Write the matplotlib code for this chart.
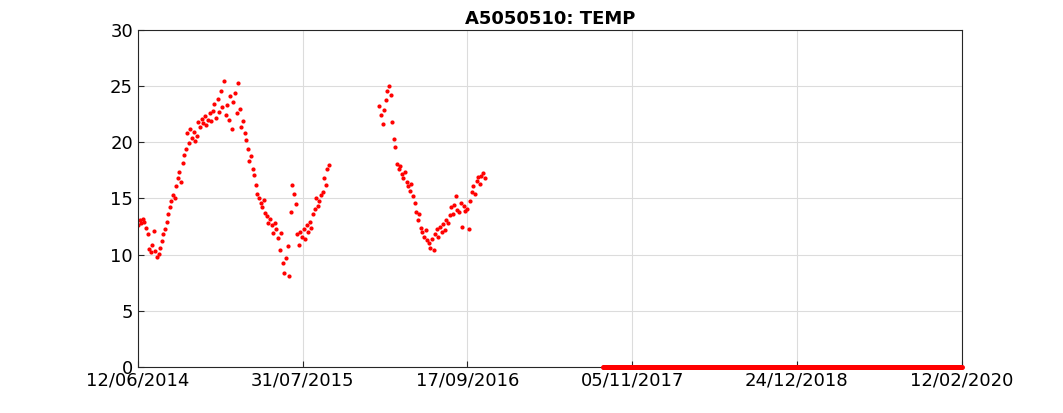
import numpy as np
import pandas as pd
import matplotlib
matplotlib.use("Agg")
import matplotlib.pyplot as plt

# --------------------------------------------
# Data (4-day sampling)
# --------------------------------------------
seg1_start = "2014-06-12"
seg1_temp = [
    12.6, 13.1, 12.8, 13.2, 12.9, 12.4,
    11.8, 10.5, 10.2, 10.9, 12.1, 10.3,
    9.8, 10.1, 10.6, 11.2, 11.8, 12.3, 12.9, 13.6,
    14.2, 14.8, 15.3, 15.0, 16.1, 16.8, 17.4, 16.5,
    18.2, 18.9, 19.4, 20.8, 19.9, 21.2, 20.4, 20.9,
    20.1, 20.6, 21.8, 21.4, 22.1, 21.7, 22.3, 21.5,
    22.0, 22.6, 21.9, 22.8, 23.4, 22.2, 23.9, 22.7,
    24.6, 23.1, 25.5, 22.4, 23.3, 22.0, 24.1, 21.2,
    23.6, 24.4, 22.6, 25.3, 23.0, 21.4, 21.9, 20.8,
    20.2, 19.4, 18.3, 18.8, 17.6, 17.1, 16.2, 15.4,
    15.0, 14.6, 14.2, 14.9, 13.7, 13.4, 12.8, 13.2,
    12.6, 11.9, 12.8, 12.3, 11.5, 10.4, 11.9, 9.3,
    8.4, 9.7, 10.8, 8.1, 13.8, 16.2, 15.4, 14.5,
    11.8, 10.9, 12.0, 11.6, 12.3, 11.4, 12.6, 12.0,
    12.9, 12.4, 13.6, 14.1, 15.0, 14.3, 14.8, 15.3,
    15.6, 16.8, 16.2, 17.6, 18.0,
]

seg2_start = "2016-02-09"
seg2_temp = [
    23.2, 22.4, 21.6, 22.9, 23.8, 24.6, 25.0, 24.2,
    21.8, 20.3, 19.6, 18.1, 17.6, 17.9, 17.2, 16.8,
    17.4, 16.5, 16.1, 15.7, 16.3, 15.2, 14.6, 13.8,
    13.1, 13.6, 12.4, 12.0, 11.6, 12.2, 11.3, 11.0,
    10.6, 11.4, 10.4, 11.8, 12.3, 11.6, 12.5, 12.0,
    12.7, 12.2, 13.1, 12.8, 13.5, 14.2, 13.6, 14.4,
    15.2, 14.0, 13.8, 14.6, 12.5, 14.3, 13.9, 14.1,
    12.3, 14.8, 15.6, 16.1, 15.4, 16.6, 16.9, 16.3,
    17.0, 17.3, 16.8,
]

seg3_start = "2017-08-23"
seg3_end = "2020-02-12"

tick_labels = ["12/06/2014", "31/07/2015", "17/09/2016",
               "05/11/2017", "24/12/2018", "12/02/2020"]

# --------------------------------------------
# Build series
# --------------------------------------------
d1 = pd.date_range(seg1_start, periods=len(seg1_temp), freq="4D")
d2 = pd.date_range(seg2_start, periods=len(seg2_temp), freq="4D")
d3 = pd.date_range(seg3_start, seg3_end, freq="2D")
seg3_temp = [0.0] * len(d3)

fig = plt.figure(figsize=(10.63, 4.13), dpi=100)
ax = fig.add_axes([0.1298, 0.1114, 0.7752, 0.816])

ax.plot(d1, seg1_temp, ".", color="red", markersize=4)
ax.plot(d2, seg2_temp, ".", color="red", markersize=4)
ax.plot(d3, seg3_temp, ".", color="red", markersize=5, clip_on=False, zorder=5)

ticks = pd.to_datetime(tick_labels, format="%d/%m/%Y")
ax.set_xlim(ticks[0], ticks[-1])
ax.set_xticks(ticks)
ax.set_xticklabels(tick_labels)
ax.set_ylim(0, 30)
ax.set_yticks(range(0, 31, 5))
ax.tick_params(labelsize=13, direction="in", length=4, color="#262626")
ax.grid(True, color="#dcdcdc", linewidth=0.8)
ax.set_axisbelow(True)
for s in ax.spines.values():
    s.set_color("#262626")
    s.set_linewidth(0.8)
ax.set_title("A5050510: TEMP", fontsize=13, fontweight="bold", pad=4)

fig.savefig("out.png", dpi=100)
